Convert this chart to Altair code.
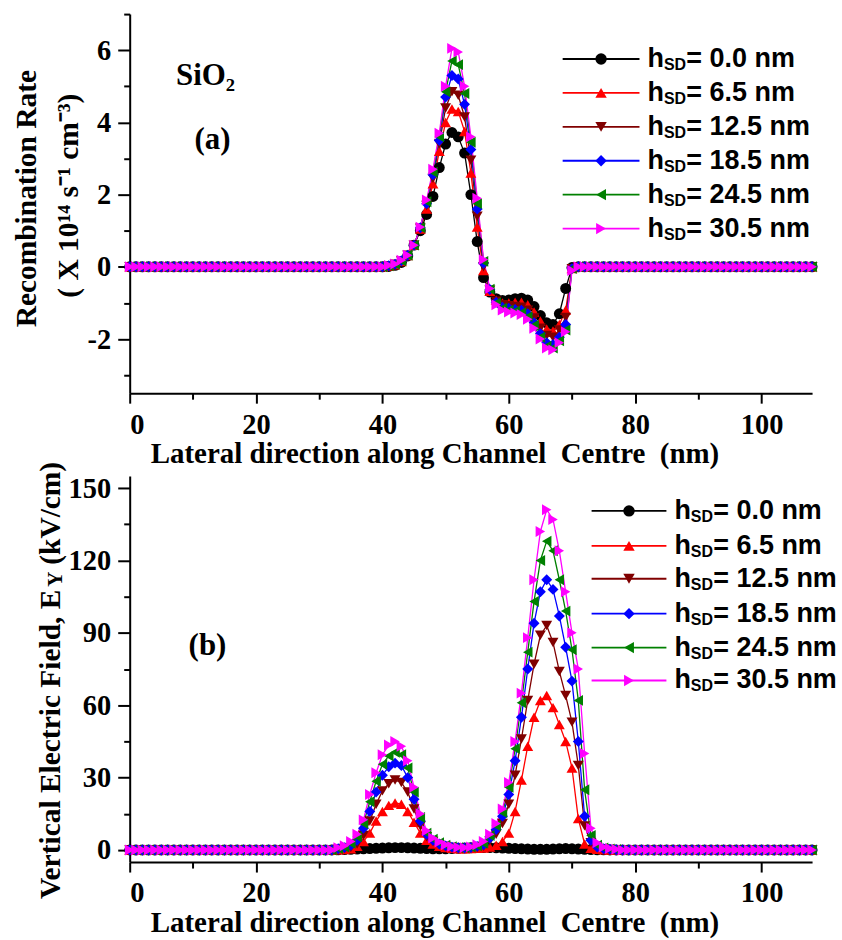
import altair as alt
import pandas as pd

# ---------------------------------------------------------------- data
X_NM = list(range(0, 109))          # lateral position along channel centre (nm)

H_SD = ["0.0", "6.5", "12.5", "18.5", "24.5", "30.5"]
COLORS = ["#000000", "#ff0000", "#800000", "#0000ff", "#008000", "#ff00ff"]
SHAPES = ["circle", "triangle-up", "triangle-down", "diamond", "triangle-left", "triangle-right"]

# (a) recombination rate (x 10^14 s^-1 cm^-3); zero outside x = 40..71 nm
REC_START = 40
REC_00 = [0, 0.01, 0.04, 0.12, 0.3, 0.6, 1.0, 1.45, 1.95, 2.75, 3.4, 3.72, 3.6, 3.15, 2.0, 0.7,
          -0.3, -0.7, -0.88, -0.93, -0.92, -0.88, -0.87, -0.92, -1.1, -1.35, -1.55, -1.6, -1.3, -0.6, -0.02, 0]
REC_65 = [0, 0.02, 0.06, 0.15, 0.31, 0.6, 1.05, 1.6, 2.3, 3.2, 4.0, 4.37, 4.3, 3.75, 2.6, 1.1,
          -0.1, -0.68, -0.92, -1.0, -1.0, -0.98, -0.98, -1.05, -1.25, -1.5, -1.72, -1.78, -1.6, -1.2, -0.05, 0]
REC_125 = [0, 0.02, 0.07, 0.16, 0.32, 0.6, 1.07, 1.7, 2.45, 3.4, 4.4, 4.85, 4.75, 4.15, 2.95, 1.4,
           0.0, -0.65, -0.95, -1.05, -1.08, -1.1, -1.12, -1.2, -1.42, -1.7, -1.9, -1.95, -1.75, -1.4, -0.05, 0]
REC_185 = [0, 0.03, 0.07, 0.17, 0.32, 0.6, 1.08, 1.75, 2.55, 3.5, 4.7, 5.3, 5.2, 4.5, 3.25, 1.6,
           0.1, -0.63, -0.98, -1.12, -1.15, -1.18, -1.2, -1.3, -1.55, -1.85, -2.1, -2.15, -1.95, -1.6, -0.05, 0]
REC_245 = [0, 0.03, 0.08, 0.17, 0.32, 0.6, 1.09, 1.8, 2.62, 3.6, 4.85, 5.7, 5.6, 4.8, 3.45, 1.75,
           0.15, -0.62, -1.0, -1.15, -1.2, -1.23, -1.27, -1.38, -1.62, -1.95, -2.2, -2.25, -2.05, -1.75, -0.05, 0]
REC_305 = [0, 0.04, 0.08, 0.18, 0.32, 0.6, 1.1, 1.85, 2.7, 3.7, 5.0, 6.05, 5.95, 5.0, 3.6, 1.9,
           0.2, -0.6, -1.05, -1.2, -1.25, -1.28, -1.32, -1.45, -1.7, -2.0, -2.25, -2.3, -2.1, -1.8, -0.1, 0]

# (b) vertical electric field Ey (kV/cm); zero outside x = 33..77 nm
EY_START = 33
EY_00 = [0.1, 0.2, 0.3, 0.4, 0.5, 0.6, 0.7, 0.8, 0.9, 1.0, 1.0, 0.9, 0.8, 0.7, 0.6, 0.5, 0.5, 0.5,
         0.6, 0.7, 0.8, 0.9, 1.0, 1.0, 1.0, 0.9, 0.8, 0.7, 0.6, 0.5, 0.4, 0.3, 0.3, 0.3, 0.4, 0.5,
         0.6, 0.5, 0.4, 0.3, 0.2, 0.1, 0.05, 0, 0]
EY_65 = [0.1, 0.2, 0.5, 1.5, 3.5, 7, 12, 16, 18.5, 19.5, 19, 16, 11.5, 7, 4, 2.5, 1.5, 1,
         0.7, 0.5, 0.5, 0.6, 0.7, 0.8, 1.2, 2, 3.5, 7, 16, 29, 43, 55, 62, 64, 59, 52,
         45, 34, 13, 2.5, 0.7, 0.3, 0.1, 0, 0]
EY_125 = [0.3, 0.6, 1, 2.5, 6, 12, 19, 24.5, 27.5, 29, 28, 24, 17, 10, 5.5, 3.5, 2.2, 1.5,
          1, 0.8, 0.7, 0.8, 1, 1.6, 3.8, 6.5, 11, 19, 31, 46, 62, 77, 89, 93, 86, 74,
          64, 53, 35, 10, 3, 1, 0.4, 0.2, 0.1]
EY_185 = [0.5, 1, 2, 4, 9, 16, 24, 31, 34.5, 36, 35, 30, 21, 12, 6.5, 4, 2.5, 1.7,
          1.2, 0.9, 0.8, 1, 1.5, 2.2, 5, 8.5, 14, 23, 37, 55, 75, 94, 107, 112, 108, 97,
          84, 70, 45, 14, 4, 1.2, 0.5, 0.3, 0.1]
EY_245 = [0.6, 1.2, 2.8, 5.5, 11, 20, 28.5, 35.5, 39, 40.5, 39.5, 34, 24, 13.5, 7, 4.5, 3, 2,
          1.4, 1, 0.9, 1.2, 1.8, 2.8, 6, 10, 15.5, 26, 42, 61, 82, 103, 120, 128, 124, 112,
          99, 83, 62, 25, 6, 2, 0.8, 0.4, 0.2]
EY_305 = [1, 1.8, 3.5, 6.5, 12.5, 23, 32, 39.5, 43.5, 45, 43, 37, 26, 15, 8, 5, 3.3, 2.2,
          1.5, 1.1, 1, 1.3, 2.2, 3.5, 6.5, 11, 17, 28, 45, 65, 88, 112, 132, 141, 137, 124,
          107, 90, 75, 40, 9, 3, 1.2, 0.6, 0.3]

REC_SERIES = [REC_00, REC_65, REC_125, REC_185, REC_245, REC_305]
EY_SERIES = [EY_00, EY_65, EY_125, EY_185, EY_245, EY_305]


def long_table(start, series_list):
    rows = []
    for name, vals in zip(H_SD, series_list):
        for x in X_NM:
            i = x - start
            y = vals[i] if 0 <= i < len(vals) else 0.0
            rows.append({"x": x, "y": y, "series": name})
    return pd.DataFrame(rows)


rec_df = long_table(REC_START, REC_SERIES)
ey_df = long_table(EY_START, EY_SERIES)
one = pd.DataFrame({"k": [0]})

# ---------------------------------------------------------------- style
SERIF = "Liberation Serif"
SANS = "Liberation Sans"
W = 684
X_DOMAIN = [0, 108]
X_MAJOR = [0, 20, 40, 60, 80, 100]
X_MINOR = [10, 30, 50, 70, 90]
NEG_LABEL = "datum.value < 0 ? '-' + toString(-datum.value) : toString(datum.value)"
TITLE_SIZE = 29.5
LEG_SIZE = 27
NBSP = "\u00a0"


def major_axis(orient, values, tick):
    return alt.Axis(orient=orient, values=values, title=None, grid=False, tickSize=tick,
                    tickWidth=2, domainWidth=2, domainColor="black", tickColor="black",
                    labelFont=SERIF, labelFontWeight="bold", labelFontSize=28.5,
                    labelColor="black", labelPadding=7, labelExpr=NEG_LABEL)


def minor_axis(orient, values, tick):
    return alt.Axis(orient=orient, values=values, title=None, grid=False, tickSize=tick,
                    tickWidth=2, labels=False, domain=False, tickColor="black")


def text(t, x, y, size, font=SERIF, weight="bold", angle=0, align="center", baseline="middle"):
    return alt.Chart(one).mark_text(
        text=t, font=font, fontSize=size, fontWeight=weight, angle=angle,
        align=align, baseline=baseline, color="black"
    ).encode(x=alt.value(x), y=alt.value(y))


def legend(rows_y, x_line0, x_line1, x_text):
    layers = []
    for name, c, s, yy in zip(H_SD, COLORS, SHAPES, rows_y):
        layers.append(alt.Chart(one).mark_rule(color=c, strokeWidth=1.8).encode(
            x=alt.value(x_line0), x2=alt.value(x_line1), y=alt.value(yy)))
        layers.append(alt.Chart(one).mark_point(shape=s, filled=True, size=130, color=c, opacity=1).encode(
            x=alt.value((x_line0 + x_line1) / 2), y=alt.value(yy)))
        layers.append(text("h", x_text, yy, LEG_SIZE, SANS, "bold", align="left"))
        layers.append(text("SD", x_text + 16.5, yy + 6, 16, SANS, "bold", align="left"))
        layers.append(text("= " + name + " nm", x_text + 39, yy, LEG_SIZE, SANS, "bold", align="left"))
    return layers


def panel(df, height, y_domain, y_major, y_minor, extra):
    xs = alt.Scale(domain=X_DOMAIN, nice=False, zero=False)
    ys = alt.Scale(domain=y_domain, nice=False, zero=False)
    color = alt.Color("series:N", scale=alt.Scale(domain=H_SD, range=COLORS), legend=None)
    shape = alt.Shape("series:N", scale=alt.Scale(domain=H_SD, range=SHAPES), legend=None)

    minor = alt.Chart(df).mark_point(opacity=0).encode(
        x=alt.X("x:Q", scale=xs, axis=minor_axis("bottom", X_MINOR, 6)),
        y=alt.Y("y:Q", scale=ys, axis=minor_axis("left", y_minor, 6)),
    )
    lines = alt.Chart(df).mark_line(strokeWidth=1.3).encode(
        x=alt.X("x:Q", scale=xs, axis=major_axis("bottom", X_MAJOR, 10)),
        y=alt.Y("y:Q", scale=ys, axis=major_axis("left", y_major, 12)),
        color=color,
    )
    points = alt.Chart(df).mark_point(filled=True, size=120, opacity=1).encode(
        x=alt.X("x:Q", scale=xs, axis=None),
        y=alt.Y("y:Q", scale=ys, axis=None),
        color=color, shape=shape)
    return alt.layer(minor, lines, points, *extra).resolve_axis(
        x="independent", y="independent"
    ).properties(width=W, height=height)


X_TITLE = "Lateral direction along Channel" + NBSP + " Centre" + NBSP + " (nm)"

top_extra = [
    text("Recombination Rate", -103, 185, TITLE_SIZE, angle=270),
    text("( X 10\u00b9\u2074 s\u207b\u00b9 cm\u207b\u00b3)", -61, 182, TITLE_SIZE, angle=270),
    text(X_TITLE, 306, 441, 29),
    text("SiO\u2082", 76, 62, 31),
    text("(a)", 83, 126, 31),
] + legend([45, 79, 113, 147, 181, 215], 434, 511, 519)

bottom_extra = [
    text("Vertical Electric Field, E", -79, 424, TITLE_SIZE, angle=270, align="left"),
    text("Y", -74, 111, 21, angle=270, align="left"),
    text("(kV/cm)", -79, 89, TITLE_SIZE, angle=270, align="left"),
    text(X_TITLE, 306, 448, 29),
    text("(b)", 78, 170, 31),
] + legend([35, 70, 103, 138, 172, 205], 463, 538, 546)

top = panel(rec_df, 380, [-3.5, 7], [-2, 0, 2, 4, 6], [-3, -1, 1, 3, 5, 7], top_extra)
bottom = panel(ey_df, 387, [-5, 155], [0, 30, 60, 90, 120, 150], [15, 45, 75, 105, 135], bottom_extra)

chart = alt.vconcat(top, bottom, spacing=83, bounds="flush").properties(
    padding={"left": 12, "top": 12, "right": 5, "bottom": 2}, background="white"
).configure_view(stroke=None)

chart.save("out.html", embed_options={"renderer": "svg", "actions": False})
